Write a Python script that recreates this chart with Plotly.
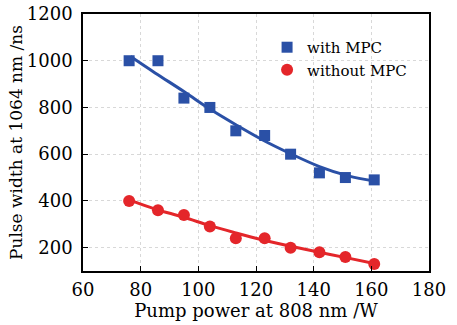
import plotly.graph_objects as go

pump_power = [76, 86, 95, 104, 113, 123, 132, 142, 151, 161]
with_mpc = [1000, 1000, 840, 800, 700, 680, 600, 520, 500, 490]
without_mpc = [400, 360, 340, 290, 240, 240, 200, 180, 160, 130]

fit_x = [76.5, 85, 95, 104, 113, 122, 132, 142, 152, 161]
fit_with = [1018, 948, 868, 793, 726, 663, 602, 547, 507, 485]
fit_without = [402, 365, 330, 294, 263, 234, 206, 180, 155, 132]

x_ticks = [60, 80, 100, 120, 140, 160, 180]
y_ticks = [200, 400, 600, 800, 1000, 1200]

BLUE = "#2a50a6"
RED = "#e4262a"
FONT = "DejaVu Serif"

fig = go.Figure()
fig.add_trace(go.Scatter(x=fit_x, y=fit_with, mode="lines", line=dict(color=BLUE, width=3, shape="spline"),
                         showlegend=False, hoverinfo="skip"))
fig.add_trace(go.Scatter(x=fit_x, y=fit_without, mode="lines", line=dict(color=RED, width=3, shape="spline"),
                         showlegend=False, hoverinfo="skip"))
fig.add_trace(go.Scatter(x=pump_power, y=with_mpc, mode="markers", name="with MPC",
                         marker=dict(symbol="square", size=11, color=BLUE)))
fig.add_trace(go.Scatter(x=pump_power, y=without_mpc, mode="markers", name="without MPC",
                         marker=dict(symbol="circle", size=12, color=RED)))

axis_common = dict(
    showline=True, linecolor="black", linewidth=1.5, mirror=True,
    ticks="inside", ticklen=5, tickwidth=1.2, tickcolor="black",
    showgrid=True, gridcolor="#d8d8d8", griddash="dot", gridwidth=1,
    zeroline=False,
    tickfont=dict(family=FONT, size=18, color="black"),
)

fig.update_xaxes(range=[60, 180], tickvals=x_ticks, ticklabelstandoff=2, automargin=False,
                 title=dict(text="Pump power at 808 nm /W", standoff=4,
                            font=dict(family=FONT, size=18, color="black")), **axis_common)
fig.update_yaxes(range=[100, 1200], tickvals=y_ticks, ticklabelstandoff=5, automargin="left",
                 title=dict(text="Pulse width at 1064 nm /ns", standoff=0,
                            font=dict(family=FONT, size=17, color="black")), **axis_common)

fig.update_layout(
    width=457, height=325,
    margin=dict(l=83, r=28, t=14, b=54),
    plot_bgcolor="white", paper_bgcolor="white",
    font=dict(family=FONT, color="black"),
    legend=dict(x=0.532, y=0.934, xanchor="left", yanchor="top", bgcolor="rgba(0,0,0,0)",
                font=dict(family=FONT, size=15, color="black"), tracegroupgap=0, itemwidth=30),
)

fig.write_html("out.html")
